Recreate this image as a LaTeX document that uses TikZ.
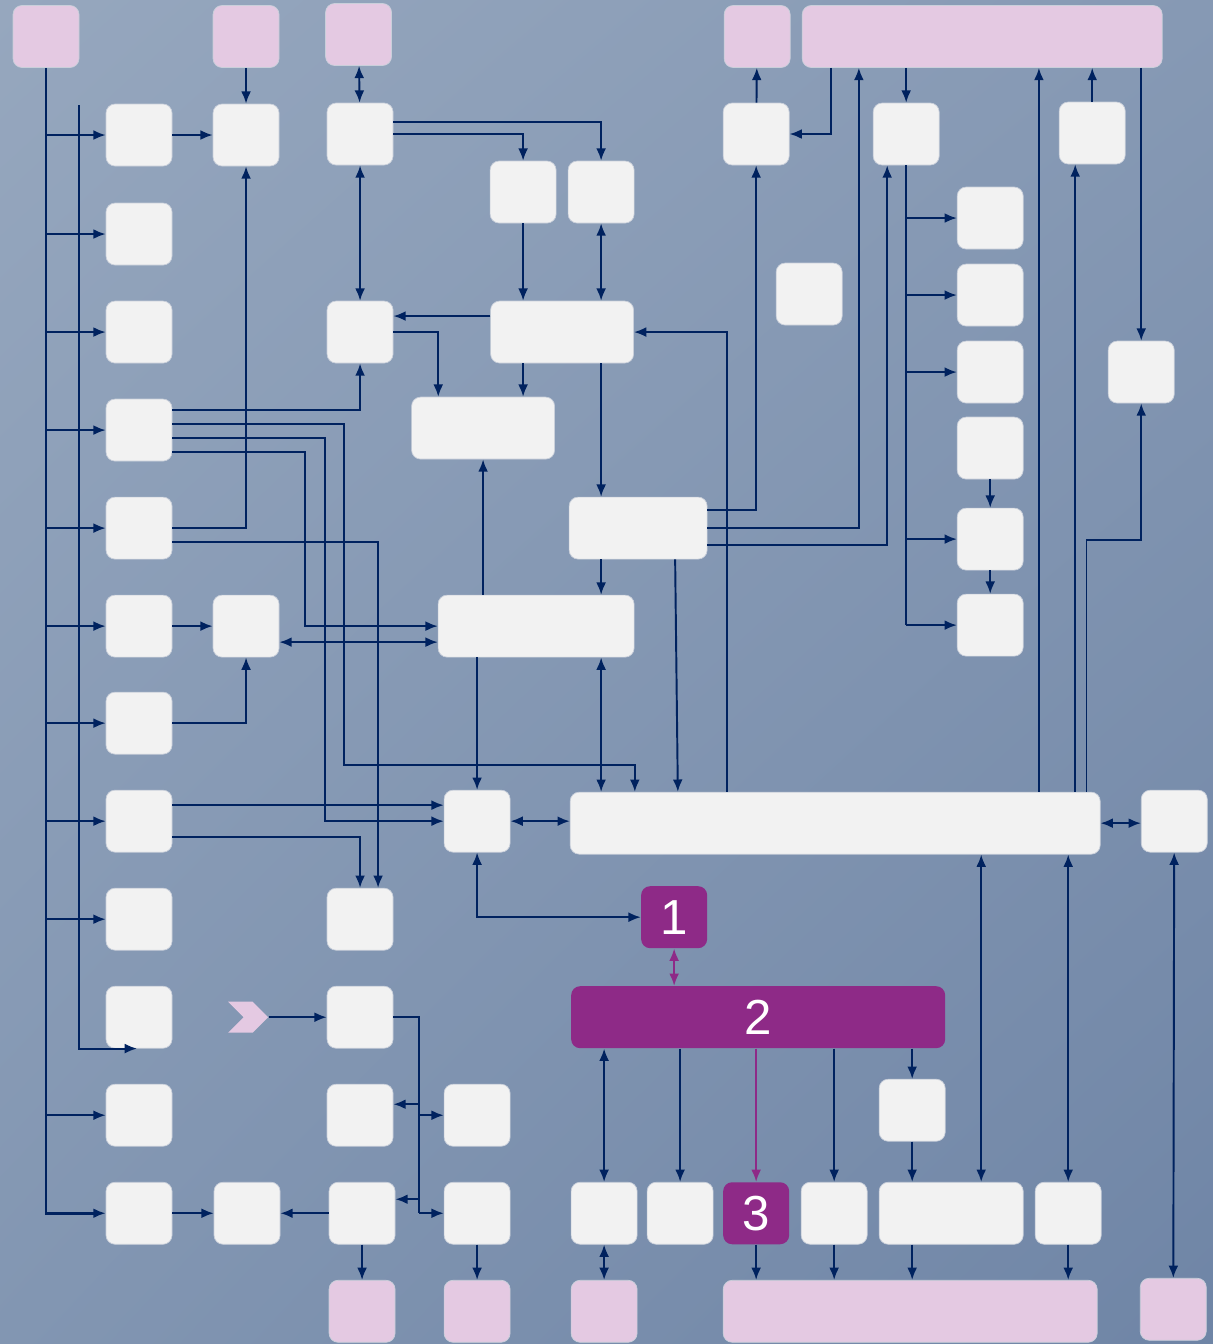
\documentclass[tikz,border=0pt]{standalone}
\usepackage{fontspec}
\setmainfont{Liberation Sans}
\usetikzlibrary{calc}
\usetikzlibrary{arrows.meta}
\usetikzlibrary{positioning}
\usetikzlibrary{shapes.symbols}
\usetikzlibrary{shadings}
\definecolor{BgA}{HTML}{96A7BE}
\definecolor{BgB}{HTML}{8699B4}
\definecolor{BgC}{HTML}{8296B2}
\definecolor{BgD}{HTML}{6F85A6}
\definecolor{BoxWhite}{HTML}{F2F2F2}
\definecolor{BoxPink}{HTML}{E4C9E2}
\definecolor{BoxEdge}{HTML}{C9CFDA}
\definecolor{DarkPurple}{HTML}{8E2A87}
\definecolor{LineNavy}{HTML}{00225F}
\tikzset{
  >={Latex[length=7pt,width=5.6pt]},
  blk/.style={rectangle, rounded corners=0.18cm, inner sep=0pt,
    minimum height=1.24cm, draw=BoxEdge, line width=0.4pt},
  wbox/.style={blk, fill=BoxWhite, minimum width=#1},
  wbox/.default=1.32cm,
  pbox/.style={blk, fill=BoxPink, minimum width=#1},
  pbox/.default=1.32cm,
  mbox/.style={blk, fill=DarkPurple, draw=none, text=white,
    font=\fontsize{28}{30}\selectfont, minimum width=#1},
  mbox/.default=1.32cm,
  chev/.style={signal, signal to=east, signal from=west, fill=BoxPink,
    inner sep=0pt, minimum width=0.8cm, minimum height=0.62cm},
  wire/.style={draw=LineNavy, line width=1.1pt},
  link/.style={wire, ->},
  dlink/.style={wire, <->},
  trunk/.style={wire, line width=1.6pt, ->},
  plink/.style={draw=DarkPurple, line width=1.1pt, ->},
}
\begin{document}
\begin{tikzpicture}[x=0.02cm, y=-0.02cm]
  % background
  \begin{scope}[x=1cm, y=1cm]
    \shade[upper left=BgA, upper right=BgB, lower left=BgC, lower right=BgD]
      (0,-26.88) rectangle (24.26,0);
    \useasboundingbox (0,-26.88) rectangle (24.26,0);
  \end{scope}

  % top row
  \node[pbox] (pA) at (46,36.5) {};
  \node[pbox] (pB) at (246,36.5) {};
  \node[pbox] (pC) at (358.5,34.5) {};
  \node[pbox] (pD) at (757,36.5) {};
  \node[pbox=7.2cm] (pE) at (982,36.5) {};

  % left column
  \foreach \i/\y in {1/135,2/234,3/332,4/430,5/528,6/626,7/723,8/821,9/919,10/1017,11/1115,12/1213}{%
    \node[wbox] (r\i) at (139,\y) {};
  }

  \node[wbox] (c2a) at (246,135) {};
  \node[wbox] (c2f) at (246,626) {};
  \node[wbox] (c2l) at (247,1213) {};

  \node[wbox] (c3a) at (360,134) {};
  \node[wbox] (c3c) at (360,332) {};
  \node[wbox] (c3i) at (360,919) {};
  \node[wbox] (c3j) at (360,1017) {};
  \node[wbox] (c3k) at (360,1115) {};
  \node[wbox] (c3l) at (362,1213) {};

  \node[wbox] (c4h) at (477,821) {};
  \node[wbox] (c4k) at (477,1115) {};
  \node[wbox] (c4l) at (477,1213) {};

  % middle
  \node[wbox] (m1) at (523,192) {};
  \node[wbox] (m2) at (601,192) {};
  \node[wbox=2.86cm] (m3) at (562,332) {};
  \node[wbox=2.86cm] (m4) at (483,428) {};
  \node[wbox=2.76cm] (m5) at (638,528) {};
  \node[wbox=3.92cm] (m6) at (536,626) {};
  \node[wbox=10.6cm] (bus) at (835,823) {};
  \node[wbox] (lone) at (809,294) {};

  % right
  \node[wbox] (t1) at (756,134) {};
  \node[wbox] (t2) at (906,134) {};
  \node[wbox] (t3) at (1092,133) {};
  \foreach \i/\y in {1/218,2/295,3/372,4/448,5/539,6/625}{%
    \node[wbox] (q\i) at (990,\y) {};
  }
  \node[wbox] (q7) at (1141,372) {};
  \node[wbox] (q8) at (1174,821) {};

  % purple blocks
  \node[mbox] (n1) at (674,917) {1};
  \node[mbox=7.48cm] (n2) at (758,1017) {2};
  \node[mbox] (n3) at (756,1213) {3};

  % bottom
  \node[wbox] (b0) at (912,1110) {};
  \node[wbox] (b1) at (604,1213) {};
  \node[wbox] (b2) at (680,1213) {};
  \node[wbox] (b4) at (834,1213) {};
  \node[wbox=2.88cm] (b5) at (951,1213) {};
  \node[wbox] (b6) at (1068,1213) {};

  \node[pbox] (e1) at (362,1311) {};
  \node[pbox] (e2) at (477,1311) {};
  \node[pbox] (e3) at (604,1311) {};
  \node[pbox=7.48cm] (e4) at (910,1311) {};
  \node[pbox] (e5) at (1173,1309) {};

  \node[chev] (chev) at (248,1017) {};

  % left trunk
  \draw[trunk] (pA.south) |- (r12.west);
  \foreach \i in {1,...,9,11}{%
    \draw[link] (pA.south |- r\i.west) -- (r\i.west);
  }
  \coordinate (hook) at (79,105);
  \draw[link] (hook) |- ($(r10.south)+(-2,0)$);

  \draw[link] (r1) -- (c2a);
  \draw[link] (pB) -- (c2a);
  \draw[dlink] (pC) -- (c3a);
  \draw[dlink] (c3a) -- (c3c);
  \draw[link] ($(c3a.east)+(0,-12)$) -| (m2.north);
  \draw[link] (c3a.east) -| (m1.north);
  \draw[link] (m1.south) -- (m1.south |- m3.north);
  \draw[dlink] (m2.south) -- (m2.south |- m3.north);
  \draw[link] ($(m3.west)+(0,-16)$) coordinate (a1) -- (a1 -| c3c.east);
  \draw[link] (c3c.east) -| ($(m4.north west)+(27,0)$);
  \draw[link] (m3.south -| m1) -- (m4.north -| m1);
  \draw[link] (m3.south -| m2) -- (m5.north -| m2);
  \draw[link] ($(bus.north west)+(157,0)$) |- (m3.east);

  % row 4 to 8
  \draw[link] ($(r4.east)+(0,-20)$) -| (c3c.south);
  \draw[link] ($(r4.east)+(0,-6)$) -| (344,765) -| ($(bus.north west)+(65,0)$);
  \draw[link] ($(r4.east)+(0,8)$) -| (325,821) -- (c4h.west);
  \draw[link] ($(r4.east)+(0,22)$) -| (305,626) -- (m6.west);
  \draw[link] (r5.east) -| (c2a.south);
  \draw[link] ($(r5.east)+(0,14)$) -| ($(c3i.north)+(18,0)$);
  \draw[link] (r6) -- (c2f);
  \draw[dlink] ($(c2f.east)+(0,16)$) -- ($(m6.west)+(0,16)$);
  \draw[link] (r7.east) -| (c2f.south);
  \draw[link] ($(r8.east)+(0,-16)$) -- ($(c4h.west)+(0,-16)$);
  \draw[link] ($(r8.east)+(0,16)$) -| (c3i.north);

  % middle blocks
  \draw[link] (m6.south -| c4h) -- (c4h.north);
  \draw[link] (m6.north -| m4) -- (m4.south);
  \draw[dlink] (m6.south -| m2) -- (bus.north -| m2);
  \draw[link] (m5.south -| m2) -- (m6.north -| m2);
  \draw[link] ($(m5.south)+(37,0)$) -- ($(bus.north west)+(108,0)$);
  \draw[link] ($(m5.east)+(0,-18)$) -| (t1.south);
  \draw[link] (m5.east) -| ($(pE.south west)+(57,0)$);
  \draw[link] ($(m5.east)+(0,17)$) -| ($(t2.south)+(-19,0)$);
  \draw[dlink] (c4h.east) -- (c4h.east -| bus.west);
  \draw[dlink] (c4h.south) |- (n1.west);

  % purple part
  \draw[plink, <->] (n1.south) -- (n1.south |- n2.north);
  \draw[dlink] (n2.south -| b1) -- (b1.north);
  \draw[link] (n2.south -| b2) -- (b2.north);
  \draw[plink] (n2.south -| n3) -- (n3.north);
  \draw[link] (n2.south -| b4) -- (b4.north);
  \draw[link] (n2.south -| b0) -- (b0.north);
  \draw[link] (b0.south) -- (b0.south |- b5.north);
  \draw[dlink] ($(b5.north)+(30,0)$) coordinate (u1) -- (u1 |- bus.south);
  \draw[dlink] (b6.north) -- (b6.north |- bus.south);
  \draw[dlink] (bus.east) -- (bus.east -| q8.west);
  \draw[dlink] (q8) -- (e5);

  % bottom row
  \draw[dlink] (b1) -- (e3);
  \draw[link] (n3.south) -- (n3.south |- e4.north);
  \draw[link] (b4.south) -- (b4.south |- e4.north);
  \draw[link] (b5.south -| b0) -- (e4.north -| b0);
  \draw[link] (b6.south) -- (b6.south |- e4.north);
  \draw[link] (c3l) -- (e1);
  \draw[link] (c4l) -- (e2);

  % lower left group
  \draw[link] (chev) -- (c3j);
  \coordinate (jn) at ($(c3j.east)+(26,0)$);
  \draw[wire] (c3j.east) -| (jn |- c4l.west);
  \draw[link] (jn |- c4k.west) -- (c4k.west);
  \draw[link] (jn |- c4l.west) -- (c4l.west);
  \coordinate (k1) at ($(c3k.east)+(0,-11)$);
  \coordinate (k2) at ($(c3l.east)+(0,-14)$);
  \draw[link] (jn |- k1) -- (k1);
  \draw[link] (jn |- k2) -- (k2);
  \draw[link] (c3l) -- (c2l);
  \draw[link] (r12) -- (c2l);

  % top right
  \draw[link] (t1) -- (pD);
  \draw[link] ($(pE.south west)+(29,0)$) |- (t1.east);
  \draw[link] (pE.south -| t2) -- (t2.north);
  \draw[wire] (t2.south) -- (t2.south |- q6.west);
  \foreach \i in {1,2,3,5,6}{%
    \draw[link] (t2.south |- q\i.west) -- (q\i.west);
  }
  \draw[link] (q4) -- (q5);
  \draw[link] (q5) -- (q6);
  \draw[link] ($(bus.north west)+(469,0)$) coordinate (v1) -- (v1 |- pE.south);
  \coordinate (w1) at ($(t3.south)+(-17,0)$);
  \draw[link] (w1 |- bus.north) -- (w1);
  \draw[link] (t3.north) -- (t3.north |- pE.south);
  \draw[link] (q7.north |- pE.south) -- (q7.north);
  \draw[link] ($(bus.north east)+(-14,0)$) |- ($(q7.south)+(0,137)$) -- (q7.south);
\end{tikzpicture}
\end{document}
